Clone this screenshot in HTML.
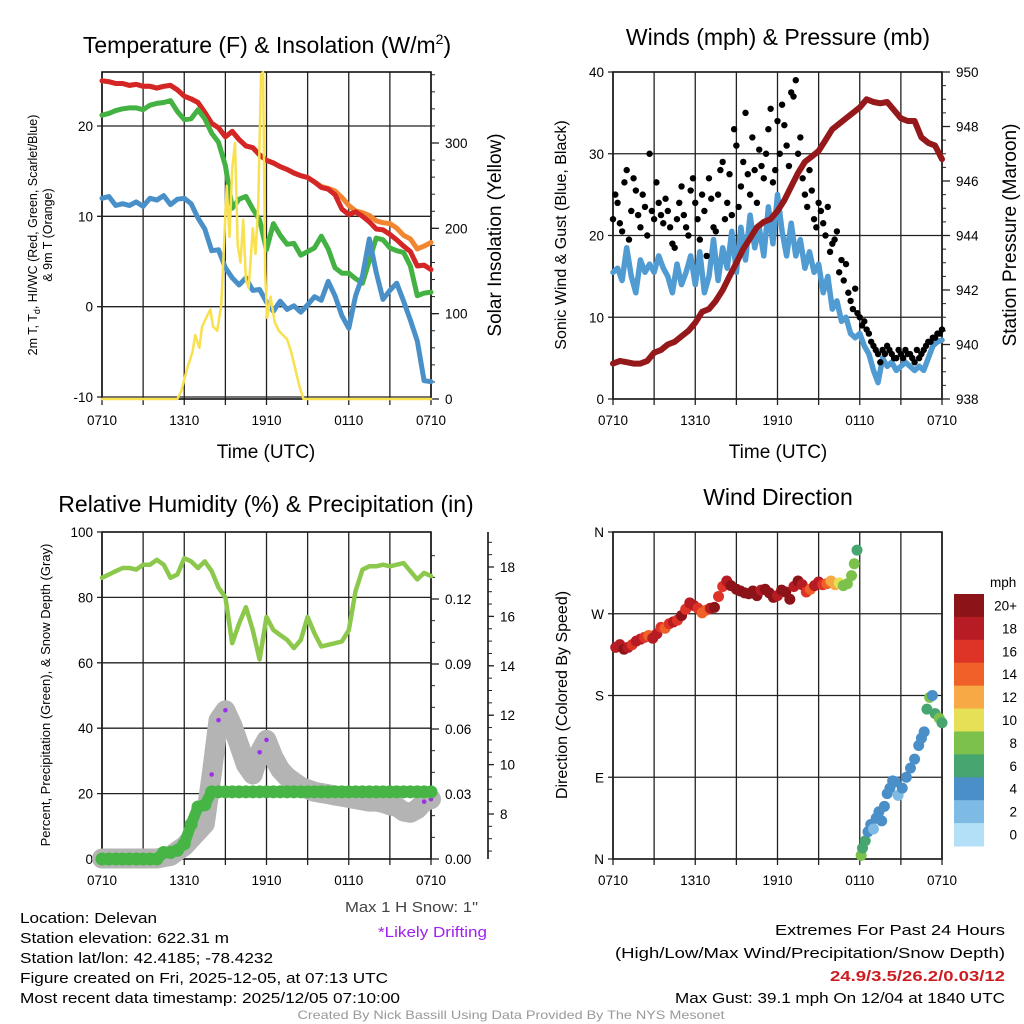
<!DOCTYPE html>
<html><head><meta charset="utf-8"><style>
html,body{margin:0;padding:0;background:#fff}
svg{display:block;font-family:"Liberation Sans",Arial,sans-serif}
</style></head><body>
<svg id="root" width="1024" height="1024" viewBox="0 0 1024 1024" xmlns="http://www.w3.org/2000/svg">
<rect width="1024" height="1024" fill="#fff"/>
<g id="p1"></g>
<g id="p2"></g>
<g id="p3"></g>
<g id="p4"></g>
<g font-size="23" text-anchor="middle">
<text x="267" y="53">Temperature (F) &amp; Insolation (W/m<tspan dy="-9" font-size="14">2</tspan><tspan dy="9">)</tspan></text>
<text x="778" y="45">Winds (mph) &amp; Pressure (mb)</text>
<text x="266" y="512">Relative Humidity (%) &amp; Precipitation (in)</text>
<text x="778" y="505">Wind Direction</text>
</g>
<g>
<text x="266" y="458" font-size="19" text-anchor="middle">Time (UTC)</text>
<text x="778" y="458" font-size="19" text-anchor="middle">Time (UTC)</text>
<text transform="translate(37,235) rotate(-90)" font-size="12.5" text-anchor="middle">2m T, T<tspan dy="3" font-size="9">d</tspan><tspan dy="-3">, HI/WC (Red, Green, Scarlet/Blue)</tspan></text>
<text transform="translate(52,235) rotate(-90)" font-size="12.5" text-anchor="middle">&amp; 9m T (Orange)</text>
<text transform="translate(501,235) rotate(-90)" font-size="19" text-anchor="middle">Solar Insolation (Yellow)</text>
<text transform="translate(566,235) rotate(-90)" font-size="16" text-anchor="middle">Sonic Wind &amp; Gust (Blue, Black)</text>
<text transform="translate(1016,235) rotate(-90)" font-size="19" text-anchor="middle">Station Pressure (Maroon)</text>
<text transform="translate(50,695) rotate(-90)" font-size="13" text-anchor="middle">Percent, Precipitation (Green), &amp; Snow Depth (Gray)</text>
<text transform="translate(567,695) rotate(-90)" font-size="16" text-anchor="middle">Direction (Colored By Speed)</text>
</g>
<g font-size="14.5">
<text x="20" y="923" textLength="137" lengthAdjust="spacingAndGlyphs">Location: Delevan</text>
<text x="20" y="943" textLength="209" lengthAdjust="spacingAndGlyphs">Station elevation: 622.31 m</text>
<text x="20" y="963" textLength="253" lengthAdjust="spacingAndGlyphs">Station lat/lon: 42.4185; -78.4232</text>
<text x="20" y="983" textLength="368" lengthAdjust="spacingAndGlyphs">Figure created on Fri, 2025-12-05, at 07:13 UTC</text>
<text x="20" y="1003" textLength="380" lengthAdjust="spacingAndGlyphs">Most recent data timestamp: 2025/12/05 07:10:00</text>
<text x="478" y="912" text-anchor="end" fill="#444" textLength="133" lengthAdjust="spacingAndGlyphs">Max 1 H Snow: 1"</text>
<text x="487" y="937" text-anchor="end" fill="#a020f0" textLength="109" lengthAdjust="spacingAndGlyphs">*Likely Drifting</text>
<text x="1005" y="935" text-anchor="end" textLength="230" lengthAdjust="spacingAndGlyphs">Extremes For Past 24 Hours</text>
<text x="1005" y="958" text-anchor="end" textLength="390" lengthAdjust="spacingAndGlyphs">(High/Low/Max Wind/Precipitation/Snow Depth)</text>
<text x="1005" y="981" text-anchor="end" fill="#cc1e22" font-weight="bold" textLength="175" lengthAdjust="spacingAndGlyphs">24.9/3.5/26.2/0.03/12</text>
<text x="1005" y="1003" text-anchor="end" textLength="330" lengthAdjust="spacingAndGlyphs">Max Gust: 39.1 mph On 12/04 at 1840 UTC</text>
<text x="511" y="1019" text-anchor="middle" fill="#999" font-size="12" textLength="427" lengthAdjust="spacingAndGlyphs">Created By Nick Bassill Using Data Provided By The NYS Mesonet</text>
</g>
</svg>
<script>
// ---------- DATA ----------
const timeLabels = ["0710","1310","1910","0110","0710"];
const tHalf = Array.from({length:49},(_,i)=>i*0.5);
const temp2m = [25,24.9,24.7,24.7,24.5,24.6,24.4,24.4,24.2,24.4,24.5,24,23.3,23,22.6,21.5,20.3,19.8,18.8,19.4,18.5,17.8,17.6,16.8,16.2,15.9,15.5,15.2,14.8,14.5,14.3,13.8,13.2,13,12.4,10.8,10.2,10.5,10,9.4,8.6,8.5,8,7.4,6.7,6.1,4.5,4.6,4.1];
const temp9m = [25,24.9,24.7,24.7,24.5,24.6,24.4,24.4,24.2,24.4,24.5,24,23.3,23,22.6,21.5,20.3,19.8,18.8,19.4,18.5,17.8,17.6,16.8,16.2,15.9,15.5,15.2,14.8,14.5,14.3,13.8,13.3,13.1,12.8,12.1,11.2,10.6,10.4,10.1,9.5,9.3,9.2,8.7,7.9,7.5,6.4,6.7,7.1];
const dewGreen = [21.2,21.4,21.7,21.9,22,22,21.8,22.3,22.5,22.6,22.8,21.6,20.7,20.8,21.8,20.8,19.2,18.2,15.6,10.9,11.9,12.2,10.8,9.6,6.3,9.2,7.9,6.9,7,5.7,6.1,6.5,7.8,6.4,4.3,3.7,3.7,3.1,2.6,5.1,7.6,7.4,6.5,6.2,6,4.5,1.2,1.5,1.6];
const chillBlue = [12,12.2,11.2,11.4,11.2,11.6,11.1,12,11.8,12.3,11.3,11.9,12,11.4,9.8,8.6,6.2,6.3,4.3,3.2,2.4,3.2,1.8,1.9,0.5,-0.5,0.6,-0.3,0.1,-0.6,0.2,1.1,0.7,2.8,1.2,-1,-2.4,1.2,3.4,7.5,3.8,0.8,1.8,2.6,0.6,-1.5,-3.8,-8.2,-8.3];
const sunHours = [0,5.5,5.8,6.2,6.6,6.8,7.1,7.3,7.6,7.9,8.1,8.4,8.7,8.9,9.1,9.3,9.5,9.7,9.9,10.1,10.3,10.5,10.7,11,11.2,11.4,11.6,11.75,11.9,12.05,12.3,12.6,12.9,13.2,13.5,13.8,14.1,14.4,14.7,24];
const solar = [0,0,10,35,55,75,60,85,95,105,85,80,110,180,250,190,270,300,180,160,210,140,130,200,170,230,380,383,150,95,120,90,80,75,70,55,35,15,0,0];
const tempTicks = [-10,0,10,20];
const solarTicks = [0,100,200,300];

const tThird = Array.from({length:73},(_,i)=>i/3);
const sonicWind = [15.5,16,14.5,18.5,15,13,17,15.5,16.5,15.5,17.5,16,15,13,16.5,14,15.5,17.5,14,18,13,15,19.5,14.5,18.5,16,20.5,15.5,21,17,22.5,18.5,21,17.5,23.5,19,25,20.5,17.5,21.5,17.5,19.5,16,18,15.5,16.5,13,15,11,12,9.5,10,8,7.5,8,6.5,5.5,3.5,2,5,4,4.5,3.5,4,4.5,4,3.5,4,3.5,5,6.5,7,7.2];
const gustA = [22,24,20.5,28,23,25.5,21,23.5,30,22,24,21.5,23,19,22,26,21,25.5,24,19.5,23,27,21,25,29,24,22.5,31,26,35,25,28,30.5,27,33,26.5,34,36,31,37.5,39,32,25,28,22,24,21.5,23.5,19,20.5,17,16.5,12,13.5,10,9.5,8,6.5,5.5,6,6.5,5.5,5,5.5,6,5.5,4.5,5,6,7,7.5,8,8.5];
const tSixth = Array.from({length:72},(_,i)=>i/3+1/6);
const gustB = [25,21.5,26.5,19.5,27,22.5,25,20,23,26.5,22.5,24.5,21,18.5,24,22.5,20,27,22,25,17.5,24.5,20.5,28,22,27.5,33,23.5,29,27.5,32,24,28.5,30,35.5,28,30,33.5,28.5,37,30,27,23.5,25.5,21,23,20,18,19.5,15.5,14.5,13,11,10.5,9,8.5,7,6,4.5,5.5,6,5,6,5,5.5,5,6,5.5,6.5,7,7.5,8];
const pressure = [939.3,939.4,939.35,939.3,939.3,939.4,939.7,939.8,940,940.1,940.3,940.5,940.8,941.2,941.3,941.6,942,942.5,943,943.5,943.9,944.3,944.5,944.6,944.9,945.3,945.8,946.3,946.7,946.9,947.1,947.5,947.9,948.1,948.3,948.5,948.7,949,948.9,948.85,948.9,948.6,948.3,948.2,948.2,947.6,947.4,947.3,946.8];
const windTicks = [0,10,20,30,40];
const pressTicks = [938,940,942,944,946,948,950];

const relHum = [86,87,88,89,89,88.5,90,90,91.5,90,86,87,92,91,89,91,88,83,80,66,72,77,70,61,74,70,68.5,67,64.5,67,74,69,65,65.5,66,66.5,70,82,88.5,89.5,89.5,90,89.5,90,90.5,88,85.5,87.5,86.5];
const snowDepth = [6.2,6.2,6.2,6.2,6.2,6.2,6.2,6.2,6.2,6.25,6.3,6.5,6.7,7,7.3,7.6,9.6,11.8,12.2,11.6,10.8,10,9.6,10.5,11,10.3,9.8,9.5,9.3,9.1,9,8.9,8.85,8.8,8.75,8.7,8.65,8.6,8.55,8.5,8.5,8.45,8.35,8.3,8.1,8.05,8.2,8.5,8.6];
const drifting = [0,0,0,0,0,0,0,0,0,0,0,0,0,0,0,0,1,1,1,0,0,0,0,1,1,0,0,0,0,0,0,0,0,0,0,0,0,0,0,0,0,0,0,0,0,0,0,1,1];
const precip = [0,0,0,0,0,0,0,0,0,0.003,0.003,0.004,0.007,0.016,0.024,0.025,0.031,0.031,0.031,0.031,0.031,0.031,0.031,0.031,0.031,0.031,0.031,0.031,0.031,0.031,0.031,0.031,0.031,0.031,0.031,0.031,0.031,0.031,0.031,0.031,0.031,0.031,0.031,0.031,0.031,0.031,0.031,0.031,0.031];
const rhTicks = [0,20,40,60,80,100];
const precipTicks = ["0.00","0.03","0.06","0.09","0.12"];
const snowTicks = [8,10,12,14,16,18];

const dirHours = [0.2,0.5,0.8,1.1,1.4,1.7,2,2.3,2.6,2.9,3.2,3.5,3.8,4.1,4.4,4.7,5,5.3,5.6,5.9,6.2,6.5,6.8,7.1,7.4,7.7,8,8.3,8.6,9,9.3,9.6,9.9,10.2,10.5,10.8,11.1,11.4,11.7,12,12.3,12.6,12.9,13.2,13.5,13.8,14.1,14.4,14.7,15,15.3,15.6,15.9,16.2,16.5,16.8,17.1,17.4,17.6,17.8,18.1,18.2,18.4,18.6,18.8,19,19.2,19.4,19.6,19.8,20,20.2,20.4,20.6,20.8,21.1,21.4,21.7,22,22.3,22.5,22.7,22.9,23.1,23.3,23.5,23.8,24];
const dirDeg = [233,236,231,233,236,240,242,244,246,243,248,255,254,259,261,263,268,275,282,279,276,271,274,276,277,289,300,306,301,297,295,293,292,295,290,296,297,293,288,290,296,294,286,300,306,302,294,297,301,305,302,303,306,302,304,301,303,312,325,340,4,12,20,30,38,33,45,52,42,58,72,78,86,85,70,78,90,100,110,125,133,140,165,178,180,160,155,150];
const dirSpeed = [17,18,20,18,16,18,17,16,14,18,17,16,13,15,17,16,19,16,18,17,16,14,13,17,20,16,16,17,21,20,20,20,22,19,20,18,20,21,20,18,19,20,22,18,21,17,16,13,18,17,15,14,12,11,10,8,7,8,7,6,7,6,6,4,4,2,4,4,3,4,4,4,4,4,2,4,4,4,4,4,4,4,6,7,4,6,7,6];
const dirLabels = ["N","E","S","W","N"];
const speedLabels = ["0","2","4","6","8","10","12","14","16","18","20+"];
const speedColors = ["#b3e0f6","#7dbbe4","#4a8fc7","#47a670","#7bc14b","#e5e055","#f6a945","#ef6128","#de3327","#b71c24","#8c1418"];

// ---------- HELPERS ----------
const NS="http://www.w3.org/2000/svg";
function mk(parent,tag,attrs,txt){const e=document.createElementNS(NS,tag);for(const k in attrs)e.setAttribute(k,attrs[k]);if(txt!==undefined)e.textContent=txt;parent.appendChild(e);return e;}
function lin(d0,d1,r0,r1){return v=>r0+(v-d0)/(d1-d0)*(r1-r0);}
function pathD(xs,ys,xf,yf){return xs.map((x,i)=>(i?"L":"M")+xf(x).toFixed(1)+","+yf(ys[i]).toFixed(1)).join("");}
function frame(g,x0,x1,y0,y1,xf,nm){
  for(let h=0;h<=24;h+=3){
    const l=mk(g,"line",{x1:xf(h),x2:xf(h),y1:y0,y2:y1+6,stroke:"#222","stroke-width":1.3});
    
    
  }
  timeLabels.forEach((s,i)=>{
    const t=mk(g,"text",{x:xf(i*6),y:y1+26,"font-size":13.5,"text-anchor":"middle"},s);
    
    
  });
  const r=mk(g,"rect",{x:x0,y:y0,width:x1-x0,height:y1-y0,fill:"none",stroke:"#111","stroke-width":1.6});
  
  
}
function hgrid(g,x0,x1,ticks,yf,nm,lab){
  ticks.forEach((v,i)=>{
    const l=mk(g,"line",{x1:x0-5,x2:x1,y1:yf(v),y2:yf(v),stroke:"#222","stroke-width":1.3});
    
    
    const t=mk(g,"text",{x:x0-9,y:yf(v)+5,"font-size":13.5,"text-anchor":"end"},lab?lab[i]:String(v));
    
    
  });
}
function rightAxis(g,x,ticks,yf,nm,minorStep,lo,hi,labs,len){
  for(let v=lo;v<=hi+1e-9;v+=minorStep){
    const l=mk(g,"line",{x1:x,x2:x+4,y1:yf(v),y2:yf(v),stroke:"#222","stroke-width":1});
    
    
  }
  ticks.forEach((v,i)=>{
    const l=mk(g,"line",{x1:x,x2:x+(len||8),y1:yf(v),y2:yf(v),stroke:"#222","stroke-width":1.3});
    
    
    const t=mk(g,"text",{x:x+(len||8)+6,y:yf(v)+5,"font-size":13.5},labs?labs[i]:String(v));
    
    
  });
}
function line(g,xs,ys,xf,yf,color,w,nm){
  const p=mk(g,"path",{d:pathD(xs,ys,xf,yf),fill:"none",stroke:color,"stroke-width":w,"stroke-linejoin":"round","stroke-linecap":"round"});
  
  
  return p;
}

// ---------- PANEL 1 ----------
(function(){
  const g=document.getElementById('p1');
  const X0=102,X1=431,Y0=72,Y1=399;
  const xf=lin(0,24,X0,X1), yf=lin(-10,20,397,126), sf=lin(0,300,399,143);
  frame(g,X0,X1,Y0,Y1,xf,'p1');
  hgrid(g,X0,X1,tempTicks,yf,'p1');
  rightAxis(g,X1,solarTicks,sf,'p1-solar',20,0,380,null);
  const cg=mk(g,"g",{});
  
  
  line(cg,tHalf,temp9m,xf,yf,"#f28530",5,'orange-9m-temp-line');
  line(cg,tHalf,temp2m,xf,yf,"#d42626",5,'red-2m-temp-line');
  line(cg,tHalf,dewGreen,xf,yf,"#44b243",5,'green-dewpoint-line');
  line(cg,tHalf,chillBlue,xf,yf,"#4a90c8",5,'blue-windchill-line');
  line(cg,sunHours,solar,xf,sf,"#f8e04e",2.5,'yellow-solar-line');
})();

// ---------- PANEL 2 ----------
(function(){
  const g=document.getElementById('p2');
  const X0=613,X1=942,Y0=72,Y1=399;
  const xf=lin(0,24,X0,X1), yf=lin(0,40,399,72), pf=lin(938,950,399,72);
  frame(g,X0,X1,Y0,Y1,xf,'p2');
  hgrid(g,X0,X1,windTicks,yf,'p2');
  rightAxis(g,X1,pressTicks,pf,'p2-pressure',0.5,938,950,null);
  line(g,tThird,sonicWind,xf,yf,"#519bd3",5.5,'sonic-wind-line');
  gustA.forEach((v,i)=>{
    const c=mk(g,"circle",{cx:xf(tThird[i]),cy:yf(v),r:3.2,fill:"#000"});
    
    
  });
  gustB.forEach((v,i)=>{
    const c=mk(g,"circle",{cx:xf(tSixth[i]),cy:yf(v),r:3.2,fill:"#000"});
    
    
  });
  line(g,tHalf,pressure,xf,pf,"#95181b",6,'pressure-line');
})();

// ---------- PANEL 3 ----------
(function(){
  const g=document.getElementById('p3');
  const X0=102,X1=431,Y0=532,Y1=859;
  const xf=lin(0,24,X0,X1), yf=lin(0,100,859,532), qf=lin(0,0.03,859,794), sf=lin(8,18,814,567);
  frame(g,X0,X1,Y0,Y1,xf,'p3');
  hgrid(g,X0,X1,rhTicks,yf,'p3');
  rightAxis(g,X1,[0,0.03,0.06,0.09,0.12],qf,'p3-precip',0.01,0,0.14,precipTicks);
  const ax=mk(g,"line",{x1:488,x2:488,y1:532,y2:859,stroke:"#111","stroke-width":1.6});
  
  
  rightAxis(g,488,snowTicks,sf,'p3-snow',0.5,6.5,19,null,6);
  line(g,tHalf,snowDepth,xf,sf,"#b4b4b4",20,'snow-depth-line');
  snowDepth.forEach((v,i)=>{
    if(!drifting[i]) return;
    const c=mk(g,"circle",{cx:xf(tHalf[i]),cy:sf(v),r:2.3,fill:"#9b30e8"});
    
    
  });
  precip.forEach((v,i)=>{
    const c=mk(g,"circle",{cx:xf(tHalf[i]),cy:qf(v),r:6.5,fill:"#46b545"});
    
    
  });
  line(g,tHalf,precip,xf,qf,"#46b545",11,'precip-line');
  line(g,tHalf,relHum,xf,yf,"#8cc84b",4.5,'rel-humidity-line');
})();

// ---------- PANEL 4 ----------
(function(){
  const g=document.getElementById('p4');
  const X0=613,X1=942,Y0=532,Y1=859;
  const xf=lin(0,24,X0,X1), df=lin(0,360,859,532);
  frame(g,X0,X1,Y0,Y1,xf,'p4');
  hgrid(g,X0,X1,[0,90,180,270,360],df,'p4',dirLabels);
  dirDeg.forEach((v,i)=>{
    const idx=Math.min(10,Math.max(0,Math.round(dirSpeed[i]/2)));
    const c=mk(g,"circle",{cx:xf(dirHours[i]),cy:df(v),r:5.5,fill:speedColors[idx]});
    
    
  });
  const lg=mk(g,"g",{});
  
  
  const t=mk(lg,"text",{x:990,y:587,"font-size":13.5},"mph");
  
  
  const bh=(846-594)/11;
  speedLabels.forEach((s,i)=>{
    const k=10-i;
    const r=mk(lg,"rect",{x:954,y:594+i*bh,width:30,height:bh+0.5,fill:speedColors[k]});
    
    
    const tx=mk(lg,"text",{x:1017,y:594+i*bh+bh/2+5,"font-size":13.5,"text-anchor":"end"},speedLabels[k]);
    
    
  });
})();
</script>
</body></html>
